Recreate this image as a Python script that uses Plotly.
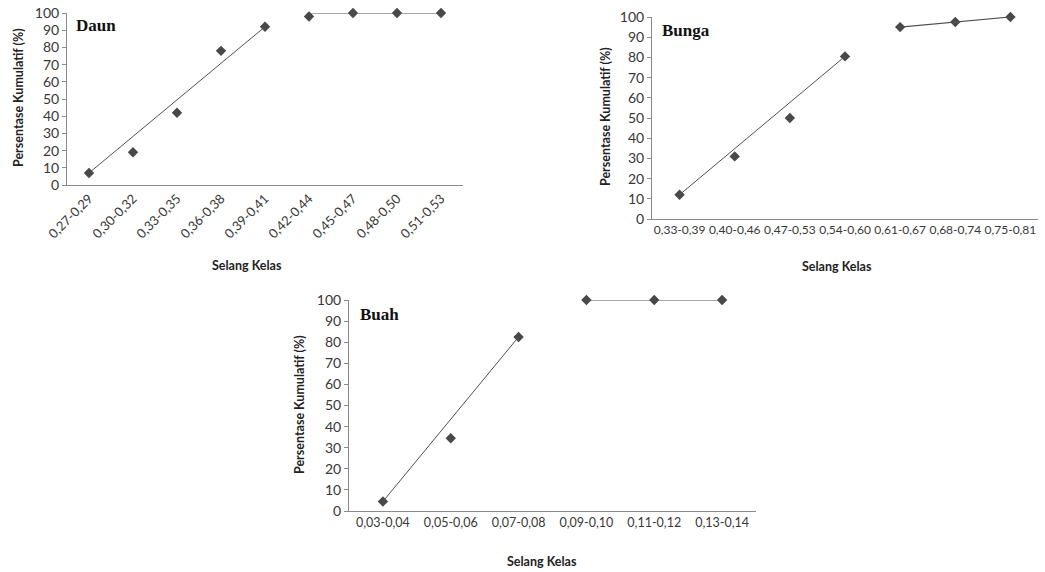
import plotly.graph_objects as go

W, H = 1045, 572

# ---- data ----
daun_cats = ["0,27-0,29", "0,30-0,32", "0,33-0,35", "0,36-0,38", "0,39-0,41",
             "0,42-0,44", "0,45-0,47", "0,48-0,50", "0,51-0,53"]
daun_vals = [7, 19, 42, 78, 92, 98, 100, 100, 100]
daun_split = 5
daun_high_trend = [100, 100]

bunga_cats = ["0,33-0,39", "0,40-0,46", "0,47-0,53", "0,54-0,60",
              "0,61-0,67", "0,68-0,74", "0,75-0,81"]
bunga_vals = [12, 31, 50, 80.5, 95, 97.5, 100]
bunga_split = 4

buah_cats = ["0,03-0,04", "0,05-0,06", "0,07-0,08", "0,09-0,10", "0,11-0,12", "0,13-0,14"]
buah_vals = [4.5, 34.5, 82.5, 100, 100, 100]
buah_split = 3

y_ticks = list(range(0, 101, 10))


def fx(px):
    return px / W


def fy(py):
    return 1 - py / H


# ---- style ----
MARK = "#484848"
LINE = "#505050"
AXIS = "#8a8a8a"
FAM = "Lato, Open Sans, sans-serif"
YTICKFONT = dict(family=FAM, size=14, color="#383838")
TITLEFONT = dict(family=FAM, size=12.5, color="#222222")
PANELFONT = dict(family="Liberation Serif, Times New Roman, serif", size=17, color="#111111")

fig = go.Figure()

panels = [
    # name, cats, vals, split, high_trend, axis id, x px domain, y px domain, tickangle, xtick size
    ("Daun", daun_cats, daun_vals, daun_split, daun_high_trend, "", (67, 463), (13, 185), -45, 13),
    ("Bunga", bunga_cats, bunga_vals, bunga_split, None, "2", (652, 1038), (17, 219), 0, 12),
    ("Buah", buah_cats, buah_vals, buah_split, None, "3", (349, 756), (300, 511), 0, 12.5),
]

for name, cats, vals, split, high_trend, ax, (x0, x1), (ytop, ybot), ang, xts in panels:
    xa = "x" + ax
    ya = "y" + ax
    fig.add_trace(go.Scatter(x=cats, y=vals, mode="markers", xaxis=xa, yaxis=ya,
                             marker=dict(symbol="diamond", size=8, color=MARK),
                             cliponaxis=False, showlegend=False))
    # rising trend line: straight line between first and last point of the rising part
    fig.add_trace(go.Scatter(x=[cats[0], cats[split - 1]], y=[vals[0], vals[split - 1]],
                             mode="lines", xaxis=xa, yaxis=ya,
                             line=dict(color=LINE, width=1), cliponaxis=False, showlegend=False))
    # plateau line
    if high_trend is not None:
        fig.add_trace(go.Scatter(x=[cats[split], cats[-1]], y=high_trend, mode="lines",
                                 xaxis=xa, yaxis=ya, line=dict(color=LINE, width=1.2),
                                 cliponaxis=False, showlegend=False))
    else:
        fig.add_trace(go.Scatter(x=cats[split:], y=vals[split:], mode="lines",
                                 xaxis=xa, yaxis=ya, line=dict(color=LINE, width=1.2),
                                 cliponaxis=False, showlegend=False))

    xkey = "xaxis" + ax
    ykey = "yaxis" + ax
    fig.update_layout(**{
        xkey: dict(domain=[fx(x0), fx(x1)], anchor=ya, type="category",
                   categoryorder="array", categoryarray=cats,
                   range=[-0.5, len(cats) - 0.5], automargin=False,
                   showline=True, linecolor=AXIS, linewidth=1, showgrid=False,
                   zeroline=False, ticks="", tickangle=ang,
                   tickfont=dict(family=FAM, size=xts, color="#383838"),
                   fixedrange=True),
        ykey: dict(domain=[fy(ybot), fy(ytop)], anchor=xa, range=[0, 100],
                   automargin=False, ticklabeloverflow="allow",
                   tickvals=y_ticks, showline=True, linecolor=AXIS, linewidth=1,
                   showgrid=False, zeroline=False, ticks="outside", ticklen=4,
                   tickcolor=AXIS, tickfont=YTICKFONT, fixedrange=True),
    })

annotations = []
for (px, py) in [(18, 98), (605, 117), (299, 405)]:
    annotations.append(dict(text="<b>Persentase Kumulatif (%)</b>", x=fx(px), y=fy(py),
                            xref="paper", yref="paper", showarrow=False, textangle=-90,
                            font=TITLEFONT, xanchor="center", yanchor="middle"))
for (px, py) in [(247, 265), (837, 266), (542, 561)]:
    annotations.append(dict(text="<b>Selang Kelas</b>", x=fx(px), y=fy(py),
                            xref="paper", yref="paper", showarrow=False,
                            font=TITLEFONT, xanchor="center", yanchor="middle"))
for (label, px, py) in [("Daun", 74, 26), ("Bunga", 660, 31), ("Buah", 358, 314)]:
    annotations.append(dict(text="<b>" + label + "</b>", x=fx(px), y=fy(py),
                            xref="paper", yref="paper", showarrow=False,
                            font=PANELFONT, xanchor="left", yanchor="middle"))

fig.update_layout(width=W, height=H, margin=dict(l=0, r=0, t=0, b=0, autoexpand=False),
                  paper_bgcolor="white", plot_bgcolor="white", hovermode=False,
                  annotations=annotations, showlegend=False)

fig.write_html("out.html", config={"displayModeBar": False, "staticPlot": True},
               post_script="document.body.style.margin='0';document.body.style.overflow='hidden';")
